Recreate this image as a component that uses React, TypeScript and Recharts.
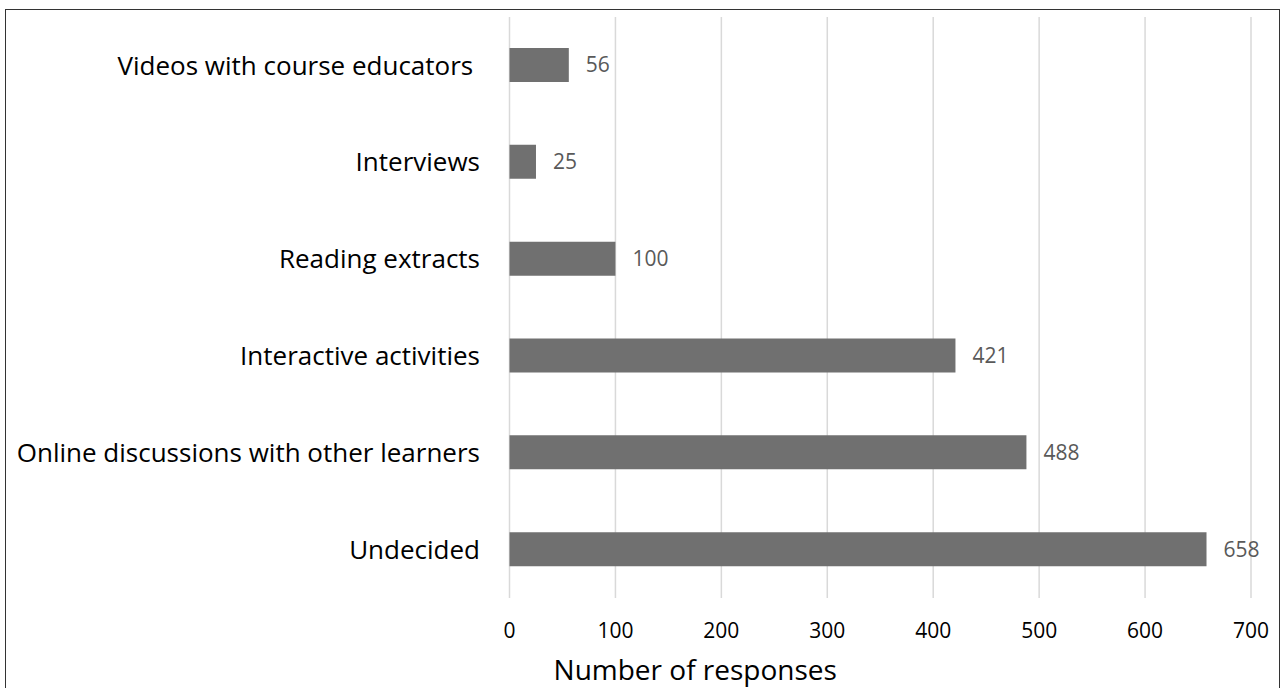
import { BarChart, Bar, XAxis, YAxis, CartesianGrid, LabelList, Label } from 'recharts';

const categories = [
  'Videos with course educators\u00a0',
  'Interviews',
  'Reading extracts',
  'Interactive activities',
  'Online discussions with other learners',
  'Undecided',
];
const responses = [56, 25, 100, 421, 488, 658];
const xTicks = [0, 100, 200, 300, 400, 500, 600, 700];

const data = categories.map((name, i) => ({ name, value: responses[i] }));

const FONT = '"Open Sans", sans-serif';

export default function App() {
  return (
    <div style={{ position: 'absolute', left: 0, top: 0, width: 1285, height: 688, overflow: 'hidden', background: '#fff', fontFamily: FONT }}>
      <div
        style={{
          position: 'absolute',
          left: 5,
          top: 9,
          width: 1273,
          height: 700,
          border: '1.5px solid #333',
        }}
      />
      <div style={{ position: 'absolute', left: 0, top: 0 }}>
        <BarChart
          width={1285}
          height={688}
          data={data}
          layout="vertical"
          margin={{ top: 17, right: 34, left: 0, bottom: 0 }}
        >
          <CartesianGrid horizontal={false} stroke="#d9d9d9" strokeWidth={1.5} />
          <XAxis
            type="number"
            domain={[0, 700]}
            ticks={xTicks}
            axisLine={false}
            tickLine={false}
            tickMargin={19}
            height={90}
            tick={{ fontSize: 21, fill: '#000', fontFamily: FONT }}
          >
            <Label
              content={({ viewBox }: any) => (
                <text
                  x={viewBox.x + viewBox.width / 2 - 185}
                  y={viewBox.y + 82}
                  textAnchor="middle"
                  fontSize={28}
                  fontFamily={FONT}
                  fill="#000"
                >
                  Number of responses
                </text>
              )}
            />
          </XAxis>
          <YAxis
            type="category"
            dataKey="name"
            width={509.5}
            axisLine={false}
            tickLine={false}
            tickMargin={23.5}
            interval={0}
            tick={{ fontSize: 26, fill: '#000', fontFamily: FONT }}
          />
          <Bar dataKey="value" fill="#707070" barSize={34} isAnimationActive={false}>
            <LabelList
              dataKey="value"
              position="right"
              offset={17}
              fill="#595959"
              fontSize={21}
              fontFamily={FONT}
            />
          </Bar>
        </BarChart>
      </div>
    </div>
  );
}
